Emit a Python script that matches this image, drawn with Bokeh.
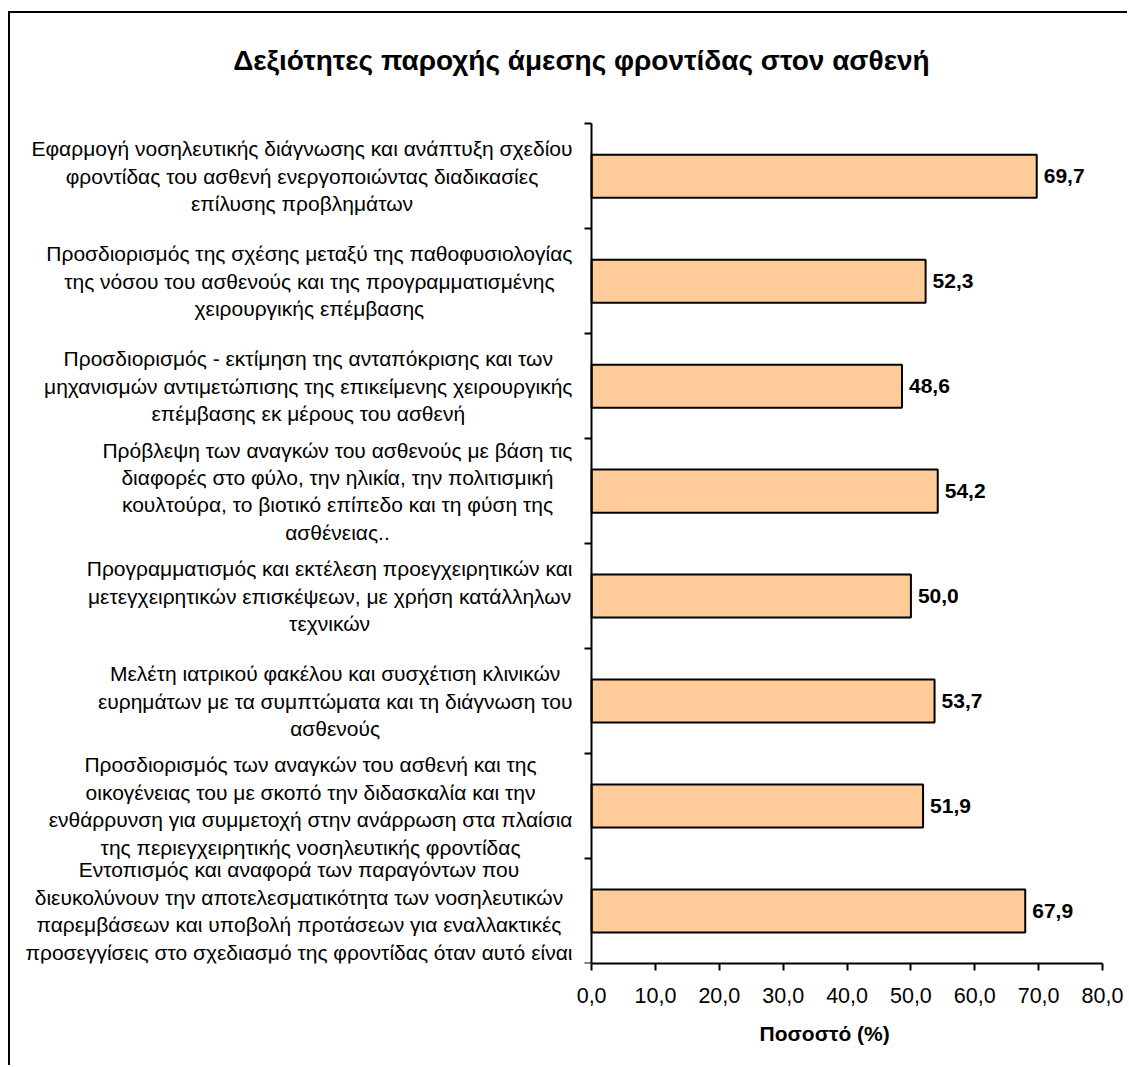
from bokeh.plotting import figure
from bokeh.models import FixedTicker, Range1d, ColumnDataSource, Title
from bokeh.core.properties import value
from bokeh.embed import file_html
from bokeh.resources import INLINE

title_text = "Δεξιότητες παροχής άμεσης φροντίδας στον ασθενή"
x_title = "Ποσοστό (%)"

categories = [
    "Εφαρμογή νοσηλευτικής διάγνωσης και ανάπτυξη σχεδίου\nφροντίδας του ασθενή ενεργοποιώντας διαδικασίες\nεπίλυσης προβλημάτων",
    "Προσδιορισμός της σχέσης μεταξύ της παθοφυσιολογίας\nτης νόσου του ασθενούς και της προγραμματισμένης\nχειρουργικής επέμβασης",
    "Προσδιορισμός - εκτίμηση της ανταπόκρισης και των\nμηχανισμών αντιμετώπισης της επικείμενης χειρουργικής\nεπέμβασης εκ μέρους του ασθενή",
    "Πρόβλεψη των αναγκών του ασθενούς με βάση τις\nδιαφορές στο φύλο, την ηλικία, την πολιτισμική\nκουλτούρα, το βιοτικό επίπεδο και τη φύση της\nασθένειας..",
    "Προγραμματισμός και εκτέλεση προεγχειρητικών και\nμετεγχειρητικών επισκέψεων, με χρήση κατάλληλων\nτεχνικών",
    "Μελέτη ιατρικού φακέλου και συσχέτιση κλινικών\nευρημάτων με τα συμπτώματα και τη διάγνωση του\nασθενούς",
    "Προσδιορισμός των αναγκών του ασθενή και της\nοικογένειας του με σκοπό την διδασκαλία και την\nενθάρρυνση για συμμετοχή στην ανάρρωση στα πλαίσια\nτης περιεγχειρητικής νοσηλευτικής φροντίδας",
    "Εντοπισμός και αναφορά των παραγόντων που\nδιευκολύνουν την αποτελεσματικότητα των νοσηλευτικών\nπαρεμβάσεων και υποβολή προτάσεων για εναλλακτικές\nπροσεγγίσεις στο σχεδιασμό της φροντίδας όταν αυτό είναι",
]
values = [69.7, 52.3, 48.6, 54.2, 50.0, 53.7, 51.9, 67.9]
value_labels = ["69,7", "52,3", "48,6", "54,2", "50,0", "53,7", "51,9", "67,9"]
x_ticks = [0, 10, 20, 30, 40, 50, 60, 70, 80]
x_tick_labels = ["0,0", "10,0", "20,0", "30,0", "40,0", "50,0", "60,0", "70,0", "80,0"]

FONT = "Liberation Sans"
n = len(categories)
pos = list(range(n))

src = ColumnDataSource(dict(y=pos, v=values, lab=value_labels, cat=categories))

p = figure(width=1119, height=1054, output_backend="svg", toolbar_location=None,
           x_range=Range1d(-91, 80), y_range=Range1d(n - 0.5, -1.55),
           min_border_left=0, min_border_right=27, min_border_top=0, min_border_bottom=104)
p.styles = {"margin-left": "8px", "margin-top": "11px",
            "border-left": "2px solid black", "border-top": "2px solid black"}
p.outline_line_color = None
p.grid.visible = False
p.background_fill_color = "white"
p.border_fill_color = "white"

# chart title, drawn in the empty band above the bars
p.text(x=[-1.6], y=[-1.1], text=[title_text], text_align="center", text_baseline="middle",
       text_font=value(FONT), text_font_style="bold", text_font_size="28px", text_color="black")

p.hbar(y="y", right="v", left=0, height=0.41, source=src,
       fill_color="#FFCC99", line_color="black", line_width=2)
p.text(x="v", y="y", text="lab", source=src, x_offset=7,
       text_baseline="middle", text_align="left",
       text_font=value(FONT), text_font_style="bold", text_font_size="21px", text_color="black")

# category labels (centred lines, block right-aligned next to the axis)
p.text(x=-3, y="y", text="cat", source=src, anchor="center_right",
       text_align="center", text_baseline="middle", text_line_height=1.19,
       text_font=value(FONT), text_font_size="21px", text_color="black")

# x axis
xa = p.xaxis[0]
xa.bounds = (0, 80)
xa.ticker = FixedTicker(ticks=x_ticks, minor_ticks=[])
xa.major_label_overrides = {t: s for t, s in zip(x_ticks, x_tick_labels)}
xa.major_tick_in = 0
xa.major_tick_out = 7
xa.axis_line_width = 2
xa.major_tick_line_width = 2
xa.major_label_text_font = FONT
xa.major_label_text_font_size = "21.5px"
xa.major_label_text_color = "black"
xa.major_label_standoff = 17

p.add_layout(Title(text=x_title, align="left", vertical_align="top", offset=749, standoff=32,
                   text_font=FONT, text_font_style="bold", text_font_size="21px",
                   text_color="black"), "below")

# y axis drawn at x = 0 with ticks between categories
ya = p.yaxis[0]
ya.fixed_location = 0
ya.bounds = (-0.5, n - 0.5)
ya.ticker = FixedTicker(ticks=[], minor_ticks=[i - 0.5 for i in range(n + 1)])
ya.major_label_text_font_size = "0px"
ya.major_tick_line_color = None
ya.major_tick_in = 0
ya.major_tick_out = 0
ya.minor_tick_in = 0
ya.minor_tick_out = 7
ya.minor_tick_line_width = 2
ya.axis_line_width = 2

open("out.html", "w").write(file_html(p, INLINE))
